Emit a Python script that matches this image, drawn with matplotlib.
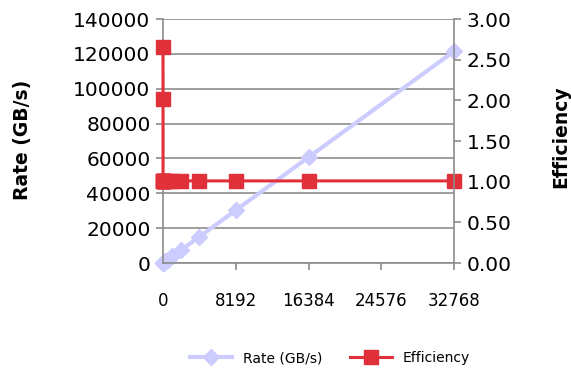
import matplotlib
matplotlib.use("Agg")
import matplotlib.pyplot as plt

# message size (powers of two) and measured values
sizes = [1, 2, 4, 8, 16, 32, 64, 128, 256, 512, 1024, 2048, 4096, 8192, 16384, 32768]
rate = [4, 8, 15, 30, 59, 118, 236, 472, 945, 1890, 3780, 7560, 15100, 30300, 60700, 121500]
efficiency = [2.65, 2.02, 1.01, 1.01, 1.01, 1.01, 1.01, 1.01, 1.01, 1.01, 1.01, 1.01, 1.01, 1.01, 1.01, 1.01]

x_ticks = [0, 8192, 16384, 24576, 32768]
rate_ticks = list(range(0, 140001, 20000))
eff_ticks = [0, 0.5, 1.0, 1.5, 2.0, 2.5, 3.0]

rate_color = '#CCCCFF'
eff_color = '#E0303A'
axis_gray = '#8C8C8C'

fig = plt.figure(figsize=(5.71, 3.70), dpi=100)
ax = fig.add_axes([0.2855, 0.289, 0.5096, 0.6596])
ax2 = ax.twinx()

l1, = ax.plot(sizes, rate, color=rate_color, lw=3, marker='D', markersize=8,
              label='Rate (GB/s)', clip_on=False)
l2, = ax2.plot(sizes, efficiency, color=eff_color, lw=2.2, marker='s', markersize=10.5,
               label='Efficiency', clip_on=False)

ax.set_xlim(0, 32768)
ax.set_ylim(0, 140000)
ax2.set_ylim(0, 3.0)
ax.set_xticks(x_ticks)
ax.set_xticklabels([str(t) for t in x_ticks], fontsize=12)
ax.set_yticks(rate_ticks)
ax.set_yticklabels([str(t) for t in rate_ticks], fontsize=14.5)
ax2.set_yticks(eff_ticks)
ax2.set_yticklabels(['%.2f' % t for t in eff_ticks], fontsize=14.5)

ax.grid(axis='y', color=axis_gray, lw=1.2)
ax.set_axisbelow(True)

for a in (ax, ax2):
    for s in a.spines.values():
        s.set_visible(False)
ax.spines['left'].set_visible(True)
ax.spines['bottom'].set_visible(True)
ax2.spines['right'].set_visible(True)
for s in (ax.spines['left'], ax.spines['bottom'], ax2.spines['right']):
    s.set_color(axis_gray)
    s.set_linewidth(1.2)

ax.tick_params(axis='y', color=axis_gray, length=5, width=1.2, pad=4)
ax.tick_params(axis='x', color=axis_gray, length=5, width=1.2, pad=16)
ax2.tick_params(axis='y', color=axis_gray, length=5, width=1.2, pad=4)

ax.set_ylabel('Rate (GB/s)', fontsize=13.5, fontweight='bold')
ax.yaxis.set_label_coords(-0.45, 0.504)
ax2.set_ylabel('Efficiency', fontsize=13.5, fontweight='bold')
ax2.yaxis.set_label_coords(1.335, 0.516)

fig.legend([l1, l2], ['Rate (GB/s)', 'Efficiency'], loc='center',
           bbox_to_anchor=(0.578, 0.032), ncol=2, frameon=False, fontsize=10,
           handlelength=3, columnspacing=2)

fig.savefig('out.png', dpi=100)
